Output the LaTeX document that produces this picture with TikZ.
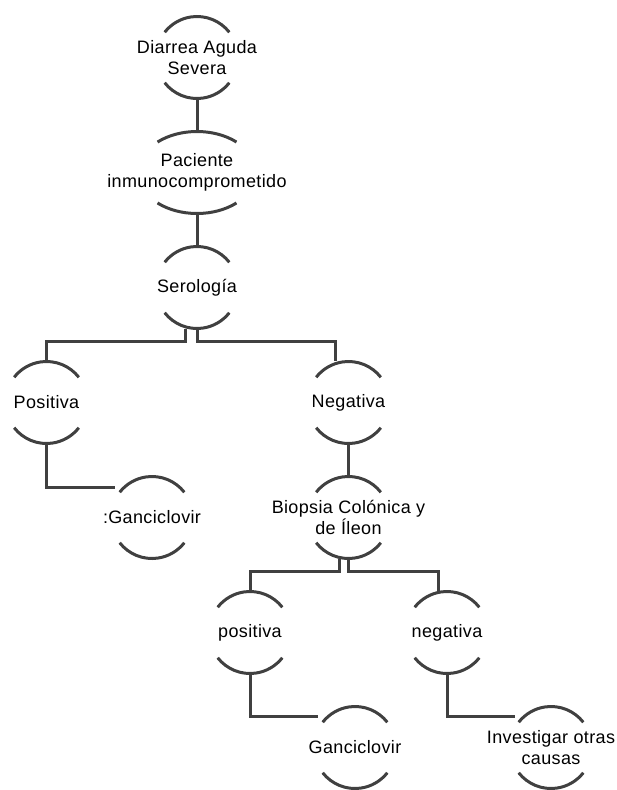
\documentclass[tikz,border=0pt]{standalone}
\usepackage{fontspec}
\setmainfont{Liberation Sans}[LetterSpace=2]
\usetikzlibrary{positioning}
\definecolor{rimgray}{RGB}{64,64,64}

\tikzset{
  cell/.style={minimum height=82pt, inner sep=0pt, align=center,
               font=\fontsize{18}{20.5}\selectfont},
  rim/.style={draw=rimgray, line width=3pt},
  link/.style={draw=rimgray, line width=3pt}
}

\begin{document}
\begin{tikzpicture}[x=1pt,y=1pt,node distance=115pt]
        \useasboundingbox (0,0) rectangle (616,-790);
        	\node[cell]  (dias)  at (197,-57.5)           {Diarrea Aguda\\Severa};
  			\node[cell]   (paci) [below of=dias]  {Paciente\\inmunocomprometido};
           \node[cell]   (sero) [below of=paci]  {Serología};

           \node[cell]   (posi) [below of=sero, xshift=-150.5pt]  {Positiva};
           \node[cell]   (nega) [below of=sero, xshift=151.5pt]  {Negativa};
           \node[cell]   (ganc1) [below of=posi, xshift=105.5pt]  {:Ganciclovir};

           \node[cell]   (biop) [below of=nega]  {Biopsia Colónica y\\de Íleon};
           \node[cell]   (pos2) [below of=biop, xshift=-98.5pt]  {positiva};
           \node[cell]   (neg2) [below of=biop, xshift=98.5pt]  {negativa};
           \node[cell]   (ganc2) [below of=pos2, xshift=105pt]  {Ganciclovir};
           \node[cell]   (inve) [below of=neg2, xshift=104pt]  {Investigar otras\\causas};

           % arcs above and below each text
           \foreach \n in {dias,sero,posi,nega,ganc1,biop,pos2,neg2,ganc2,inve}
             \draw[rim] ([shift={(38:41pt)}]\n.center) arc[start angle=38, end angle=142, radius=41pt]
                        ([shift={(218:41pt)}]\n.center) arc[start angle=218, end angle=322, radius=41pt];
           \draw[rim] ([shift={(48:59pt and 41pt)}]paci.center) arc[start angle=48, end angle=132, x radius=59pt, y radius=41pt]
                      ([shift={(228:59pt and 41pt)}]paci.center) arc[start angle=228, end angle=312, x radius=59pt, y radius=41pt];

  			\path[link]
                     (dias.south) -- (paci.north)
                     (paci.south) -- (sero.north)
                     ([xshift=-12pt]sero.south) -- ++(0,-13) -| (posi.north)
                     (sero.south) -- ++(0,-13) -| ([xshift=-13pt]nega.north)
                     (posi.south) |- ([shift={(-37pt,30pt)}]ganc1.center)

                     (nega.south) -- (biop.north)
                     ([xshift=-9pt]biop.south) -- ++(0,-13) -| (pos2.north)
                     (biop.south) -- ++(0,-13) -| ([xshift=-9pt]neg2.north)
                     (pos2.south) |- ([shift={(-37pt,31pt)}]ganc2.center)
                     (neg2.south) |- ([shift={(-36pt,31pt)}]inve.center)
                     ;
\end{tikzpicture}
\end{document}
